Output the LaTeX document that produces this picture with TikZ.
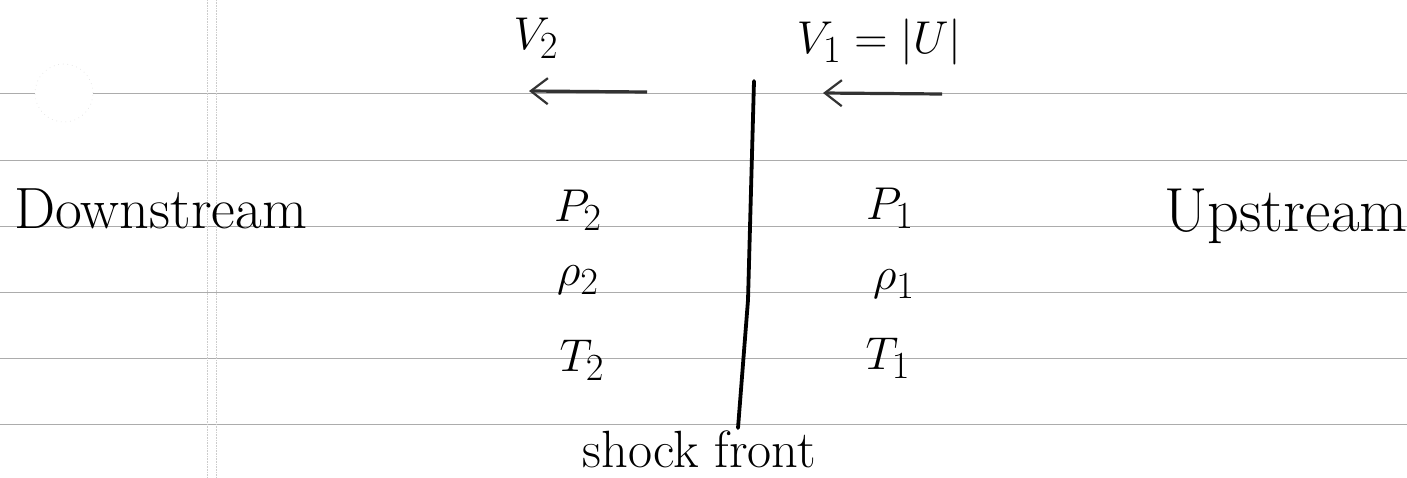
\documentclass[tikz,border=0pt]{standalone}
\usepackage{amsmath}
\usepackage{tikz}
\usetikzlibrary{arrows.meta, positioning}

\tikzset{
    ruled/.style={gray!65, line width=0.9pt},
    margin/.style={gray!40, line width=0.6pt, densely dotted},
    hand/.style={inner sep=0pt, font=\Huge, scale=2.34},
    qty/.style={inner sep=0pt, font=\Huge, scale=1.85},
    flowarrow/.style={line width=3.2pt, black!80,
        -{Straight Barb[length=17pt, width=26pt, line width=2.2pt]}},
    shockline/.style={line width=3.8pt, line cap=round, line join=round},
}

\begin{document}
\begin{tikzpicture}[x=1pt, y=-1pt]
    % 画布尺寸
    \def\W{1407}
    \def\H{477}
    \useasboundingbox (0,0) rectangle (\W,\H);

    % --- 横线（笔记本纸） ---
    \foreach \y in {93,160,226,292,358,424}{
        \draw[ruled] (0,\y) -- (\W,\y);
    }
    % 左侧页边线
    \draw[margin] (207,0) -- (207,\H);
    \draw[margin] (216,0) -- (216,\H);
    % 打孔痕迹
    \coordinate (hole) at (64,93);
    \draw[margin, gray!30, loosely dotted, fill=white] (hole) circle (29pt);

    % --- 激波面 ---
    \coordinate (shocktop) at (754,81);
    \coordinate (shockmid) at (748,300);
    \coordinate (shockbot) at (738,428);
    \draw[shockline] (shocktop) -- (shockmid) -- (shockbot);
    \node[hand, scale=0.9, anchor=base west] (front) at (582,467) {shock front};

    % --- 速度箭头 ---
    \coordinate (vtwotail) at (647,92);
    \coordinate (vtwotip) at (529,91);
    \coordinate (vonetail) at (942,94);
    \coordinate (vonetip) at (823,93);
    \draw[flowarrow] (vtwotail) -- (vtwotip);
    \draw[flowarrow] (vonetail) -- (vonetip);
    \node[qty] (vtwo) at (536,38) {$V_2$};
    \node[qty] (vone) at (879,42) {$V_1 = |U|$};

    % --- 两侧状态量 ---
    \node[hand, anchor=base west] (down) at (14,228) {Downstream};
    \node[hand, scale=1.07, anchor=base west] (up) at (1164,231) {Upstream};

    \node[qty] (ptwo) at (578,210) {$P_2$};
    \node[qty] (rhotwo) at (578,280) {$\rho_2$};
    \node[qty] (ttwo) at (582,360) {$T_2$};

    \node[qty] (pone) at (890,208) {$P_1$};
    \node[qty] (rhoone) at (894,284) {$\rho_1$};
    \node[qty] (tone) at (888,358) {$T_1$};
\end{tikzpicture}
\end{document}
